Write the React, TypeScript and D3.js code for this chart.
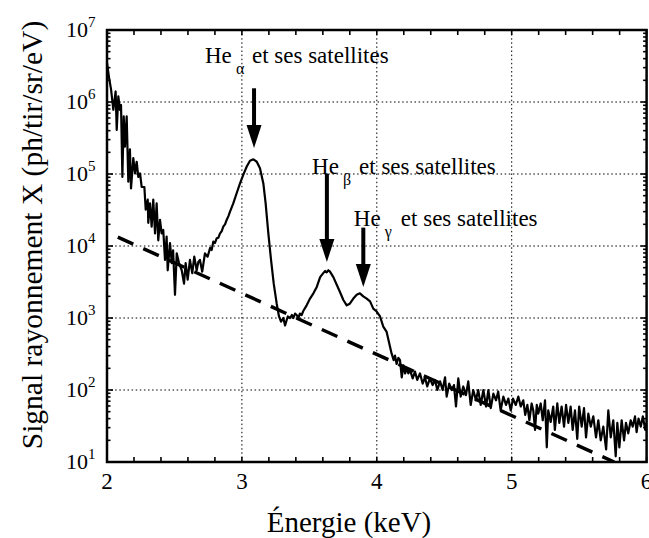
import React from "react";
import * as d3 from "d3";

// Spectrum (energy in keV, signal in ph/tir/sr/eV)
const energy = [
  2.0, 2.015, 2.03, 2.047, 2.064, 2.072, 2.084, 2.096, 2.104, 2.114, 2.124, 2.133, 2.146, 2.158, 2.17, 2.178,
  2.195, 2.208, 2.22, 2.232, 2.245, 2.257, 2.277, 2.287, 2.302, 2.306, 2.319, 2.331, 2.343, 2.356, 2.368, 2.38,
  2.393, 2.405, 2.417, 2.43, 2.442, 2.45, 2.467, 2.48, 2.49, 2.504, 2.517, 2.534, 2.554, 2.571, 2.583, 2.598,
  2.615, 2.632, 2.647, 2.665, 2.677, 2.689, 2.706, 2.726, 2.746, 2.764, 2.776, 2.788, 2.8, 2.813, 2.825, 2.838,
  2.85, 2.862, 2.875, 2.887, 2.9, 2.912, 2.936, 2.961, 2.986, 3.01, 3.036, 3.06, 3.085, 3.11, 3.134, 3.159,
  3.176, 3.196, 3.216, 3.236, 3.258, 3.275, 3.29, 3.307, 3.32, 3.34, 3.357, 3.37, 3.381, 3.394, 3.406, 3.418,
  3.43, 3.443, 3.455, 3.48, 3.505, 3.53, 3.555, 3.58, 3.603, 3.617, 3.629, 3.641, 3.653, 3.678, 3.703, 3.727,
  3.752, 3.777, 3.8, 3.826, 3.851, 3.875, 3.9, 3.925, 3.95, 3.974, 3.999, 4.024, 4.048, 4.073, 4.098, 4.11,
  4.125, 4.135, 4.147, 4.16, 4.172, 4.185, 4.197, 4.21, 4.222, 4.234, 4.246, 4.266, 4.283, 4.3, 4.32, 4.34,
  4.357, 4.374, 4.394, 4.414, 4.431, 4.449, 4.469, 4.488, 4.506, 4.518, 4.537, 4.555, 4.572, 4.587, 4.604, 4.622,
  4.641, 4.661, 4.678, 4.696, 4.715, 4.735, 4.752, 4.77, 4.79, 4.81, 4.827, 4.845, 4.864, 4.884, 4.9, 4.918,
  4.938, 4.958, 4.975, 4.993, 5.01, 5.03, 5.049, 5.067, 5.086, 5.1, 5.116, 5.131, 5.148, 5.16, 5.173, 5.186,
  5.197, 5.215, 5.23, 5.247, 5.26, 5.271, 5.289, 5.308, 5.32, 5.338, 5.353, 5.37, 5.388, 5.403, 5.42, 5.437,
  5.452, 5.469, 5.486, 5.5, 5.519, 5.536, 5.551, 5.568, 5.586, 5.605, 5.625, 5.642, 5.66, 5.679, 5.7, 5.716,
  5.734, 5.753, 5.771, 5.783, 5.798, 5.815, 5.833, 5.847, 5.864, 5.882, 5.897, 5.914, 5.926, 5.94, 5.957, 5.972,
  5.99, 6.0,
];
const signal = [
  3.5e6, 2.2e6, 1.5e6, 7.8e5, 1.4e6, 4.1e5, 1.2e6, 7.8e5, 9.1e5, 9.1e4, 6.3e5, 2.4e5, 6.3e5, 7.8e4, 2.2e5, 6.3e4,
  1.66e5, 1.02e5, 1.48e5, 9.1e4, 1.02e5, 6.6e4, 6.6e4, 3.2e4, 4.4e4, 2.1e4, 3.9e4, 1.86e4, 4.4e4, 1.5e4, 3.9e4, 1.2e4,
  2.3e4, 1.5e4, 1.67e4, 6.4e3, 1.35e4, 4.6e3, 1.1e4, 5.8e3, 8.7e3, 2.1e3, 7.9e3, 5.8e3, 4.6e3, 3.0e3, 5.8e3, 3.4e3,
  6.4e3, 4.2e3, 7.1e3, 4.6e3, 6.0e3, 6.4e3, 4.4e3, 7.9e3, 7.1e3, 9.4e3, 8.8e3, 1.15e4, 1.1e4, 1.28e4, 1.3e4, 1.5e4,
  1.6e4, 1.86e4, 2.0e4, 2.3e4, 2.6e4, 3.0e4, 3.9e4, 5.4e4, 7.4e4, 9.7e4, 1.27e5, 1.53e5, 1.6e5, 1.48e5, 1.2e5, 7.4e4,
  3.9e4, 1.5e4, 6.4e3, 3.0e3, 1.58e3, 1.05e3, 8.9e2, 1.0e3, 7.9e2, 1.05e3, 1.0e3, 1.1e3, 1.0e3, 1.15e3, 1.1e3, 1.0e3,
  1.15e3, 1.1e3, 1.25e3, 1.5e3, 1.86e3, 2.2e3, 2.7e3, 3.7e3, 4.2e3, 4.5e3, 4.3e3, 4.6e3, 4.4e3, 3.7e3, 2.9e3, 2.3e3,
  1.78e3, 1.5e3, 1.58e3, 1.86e3, 2.1e3, 2.2e3, 2.0e3, 1.86e3, 1.7e3, 1.35e3, 1.23e3, 1.05e3, 7.6e2, 6.4e2, 4.0e2, 3.2e2,
  2.6e2, 3.0e2, 2.3e2, 2.8e2, 2.6e2, 1.5e2, 2.2e2, 1.7e2, 2.0e2, 1.7e2, 1.9e2, 1.45e2, 1.8e2, 1.38e2, 1.7e2, 1.23e2,
  1.5e2, 1.12e2, 1.45e2, 1.17e2, 1.38e2, 1.0e2, 1.32e2, 1.0e2, 1.5e2, 81, 1.23e2, 1.0e2, 1.17e2, 59, 1.45e2, 81,
  1.12e2, 85, 1.32e2, 62, 1.0e2, 72, 1.0e2, 62, 1.0e2, 59, 1.0e2, 56, 89, 72, 95, 52,
  81, 62, 76, 52, 76, 62, 81, 59, 72, 45, 62, 38, 65, 52, 28, 62,
  47, 65, 38, 72, 16, 52, 36, 59, 28, 65, 35, 59, 31, 62, 35, 59,
  28, 52, 21, 59, 31, 56, 22, 47, 31, 43, 22, 38, 20, 31, 15, 52,
  22, 38, 12, 35, 16, 38, 20, 35, 25, 38, 31, 43, 26, 40, 31, 43,
  28, 35,
];

// Dashed background fit (two end points of a straight line in log space)
const fitEnergy = [2.08, 5.76];
const fitSignal = [1.33e4, 10];

// Axis ticks
const xTicks = [2, 3, 4, 5, 6];
const xGrid = [3, 4, 5];
const yExponents = [1, 2, 3, 4, 5, 6, 7];
const yGridExp = [2, 3, 4, 5, 6];

// Annotations
const arrowEnergy = [3.09, 3.63, 3.9];
const arrowTop = [1.55e6, 1.0e5, 1.8e4];
const arrowTip = [2.3e5, 6.0e3, 2.7e3];
const greek = ["α", "β", "γ"];
const labelEnergy = [2.726, 3.52, 3.83];
const labelValue = [3.5e6, 1.0e5, 1.9e4];

const W = 649;
const H = 538;
const M = { left: 107, right: 2.4, top: 30, bottom: 76 };
const SERIF = '"Liberation Serif", "DejaVu Serif", Times, serif';

export default function App() {
  const x = d3.scaleLinear().domain([2, 6]).range([M.left, W - M.right]);
  const y = d3.scaleLog().domain([10, 1e7]).range([H - M.bottom, M.top]);
  const x0 = M.left, x1 = W - M.right, y0 = H - M.bottom, y1 = M.top;

  const pts = energy.map((e, i) => [e, signal[i]] as [number, number]);
  const line = d3.line<[number, number]>().x((d) => x(d[0])).y((d) => y(d[1]));
  const fitPts = fitEnergy.map((e, i) => [e, fitSignal[i]] as [number, number]);

  const xMinor = d3.range(2, 6.0001, 0.2);
  const yMinor: number[] = [];
  for (let d = 1; d < 7; d++) for (let m = 2; m <= 9; m++) yMinor.push(m * Math.pow(10, d));

  const ts = { fontFamily: SERIF };

  return (
    <svg width={W} height={H} style={{ position: "absolute", left: 0, top: 0, background: "#fff", fontFamily: SERIF }}>
      <defs>
        <clipPath id="plotclip">
          <rect x={x0} y={y1} width={x1 - x0} height={y0 - y1} />
        </clipPath>
      </defs>
      <g stroke="#000" strokeWidth={1} strokeDasharray="1.5,2.6">
        {xGrid.map((v) => (
          <line key={"gx" + v} x1={x(v)} x2={x(v)} y1={y1} y2={y0} />
        ))}
        {yGridExp.map((e) => (
          <line key={"gy" + e} x1={x0} x2={x1} y1={y(Math.pow(10, e))} y2={y(Math.pow(10, e))} />
        ))}
      </g>
      <g stroke="#000" strokeWidth={1.6}>
        {xMinor.map((v, i) => (
          <g key={"xt" + i}>
            <line x1={x(v)} x2={x(v)} y1={y0} y2={y0 - 5} />
            <line x1={x(v)} x2={x(v)} y1={y1} y2={y1 + 5} />
          </g>
        ))}
        {yExponents.map((e) => (
          <g key={"ym" + e}>
            <line x1={x0} x2={x0 + 6} y1={y(Math.pow(10, e))} y2={y(Math.pow(10, e))} />
            <line x1={x1} x2={x1 - 6} y1={y(Math.pow(10, e))} y2={y(Math.pow(10, e))} />
          </g>
        ))}
        {yMinor.map((v, i) => (
          <g key={"yn" + i}>
            <line x1={x0} x2={x0 + 3.5} y1={y(v)} y2={y(v)} />
            <line x1={x1} x2={x1 - 3.5} y1={y(v)} y2={y(v)} />
          </g>
        ))}
      </g>
      <g clipPath="url(#plotclip)">
        <path d={line(fitPts) || ""} fill="none" stroke="#000" strokeWidth={3.4} strokeDasharray="17,11" />
        <path d={line(pts) || ""} fill="none" stroke="#000" strokeWidth={2.2} strokeLinejoin="round" />
      </g>
      <rect x={x0} y={y1} width={x1 - x0} height={y0 - y1} fill="none" stroke="#000" strokeWidth={2.5} />
      {arrowEnergy.map((e, i) => {
        const ax = x(e);
        const top = y(arrowTop[i]);
        const tip = y(arrowTip[i]);
        const headLen = 23;
        return (
          <g key={"ar" + i}>
            <line x1={ax} x2={ax} y1={top} y2={tip - headLen + 2} stroke="#000" strokeWidth={4} />
            <polygon points={`${ax - 7.5},${tip - headLen} ${ax + 7.5},${tip - headLen} ${ax},${tip}`} fill="#000" />
          </g>
        );
      })}
      {labelEnergy.map((e, i) => {
        const lx = x(e);
        const ly = y(labelValue[i]);
        return (
          <text key={"lb" + i} y={ly} fontSize={23} fill="#000" style={ts}>
            <tspan x={lx}>He</tspan>
            <tspan x={lx + 31} dy={11} fontSize={16}>{greek[i]}</tspan>
            <tspan x={lx + 47} dy={-11}>et ses satellites</tspan>
          </text>
        );
      })}
      {yExponents.map((e) => (
        <text key={"yl" + e} x={95.5} y={y(Math.pow(10, e)) + 7} textAnchor="end" fontSize={22} fill="#000" style={ts}>
          10
          <tspan dy={-10} fontSize={15}>{e}</tspan>
        </text>
      ))}
      {xTicks.map((v) => (
        <text key={"xl" + v} x={x(v)} y={y0 + 27} textAnchor="middle" fontSize={23} fill="#000" style={ts}>
          {v}
        </text>
      ))}
      <text x={349} y={532} textAnchor="middle" fontSize={29} fill="#000" style={ts}>
        Énergie (keV)
      </text>
      <text transform="translate(42,235) rotate(-90)" textAnchor="middle" fontSize={29.5} fill="#000" style={ts}>
        Signal rayonnement X (ph/tir/sr/eV)
      </text>
    </svg>
  );
}
